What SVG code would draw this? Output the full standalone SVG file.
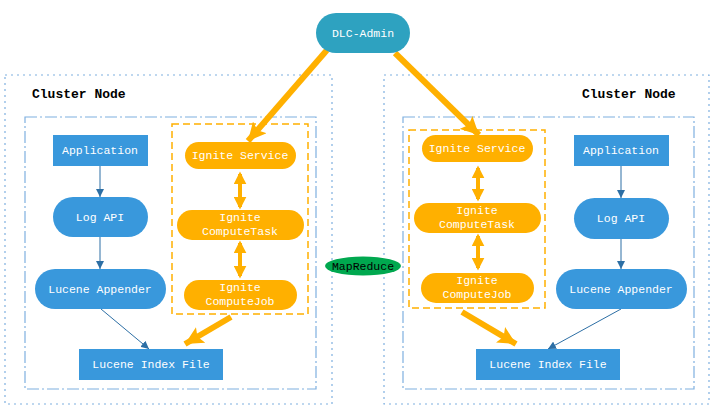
<svg xmlns="http://www.w3.org/2000/svg" width="716" height="417" viewBox="0 0 716 417">
<style>
text{font-family:"Liberation Mono","DejaVu Sans Mono",monospace;font-size:11.5px;text-anchor:middle;fill:#fff}
.title{font-size:13px;font-weight:bold;fill:#000;text-anchor:start}
.blue{fill:#3998dc}
.org{fill:#ffb000}
.outer{fill:none;stroke:#7fb0e0;stroke-width:1.2;stroke-dasharray:2 4}
.inner{fill:none;stroke:#7fb0e0;stroke-width:1.2;stroke-dasharray:12 3 2 3}
.odash{fill:none;stroke:#ffb000;stroke-width:1.5;stroke-dasharray:7 4}
.bl{stroke:#2d6fa5;stroke-width:1;fill:none;marker-end:url(#ab)}
.thick{stroke:#ffb000;stroke-width:6;fill:none;marker-end:url(#at)}
.dbl{stroke:#ffb000;stroke-width:4;fill:none;marker-start:url(#ad);marker-end:url(#ad)}
</style>
<defs>
<marker id="ab" markerUnits="userSpaceOnUse" viewBox="0 0 10 10" refX="10" refY="5" markerWidth="8" markerHeight="8" orient="auto"><path d="M0,0 L10,5 L0,10 Z" fill="#2d6fa5"/></marker>
<marker id="at" markerUnits="userSpaceOnUse" viewBox="0 0 10 10" refX="10" refY="5" markerWidth="18" markerHeight="18" orient="auto"><path d="M0,0 L10,5 L0,10 L2,5 Z" fill="#ffb000"/></marker>
<marker id="ad" markerUnits="userSpaceOnUse" viewBox="0 0 10 10" refX="8" refY="5" markerWidth="13" markerHeight="13" orient="auto-start-reverse"><path d="M0,0 L10,5 L0,10 Z" fill="#ffb000"/></marker>
</defs>

<g id="left-cluster">
<rect class="outer" x="5" y="75" width="327" height="329"/>
<rect class="inner" x="25" y="117" width="291" height="272"/>
<rect class="odash" x="172" y="124" width="136" height="190"/>
<text class="title" x="32" y="98">Cluster Node</text>
</g>
<g id="right-cluster">
<rect class="outer" x="384" y="75" width="325" height="329"/>
<rect class="inner" x="403" y="117" width="291" height="272"/>
<rect class="odash" x="409" y="130" width="136" height="178"/>
<text class="title" x="582" y="98">Cluster Node</text>
</g>

<g id="connectors">
<path class="bl" d="M100,166 V197"/>
<path class="bl" d="M100,237 V269"/>
<path class="bl" d="M101,309 L149,349"/>
<path class="bl" d="M621,166 V198"/>
<path class="bl" d="M621,239 V269"/>
<path class="bl" d="M621,309 L548,349"/>
<path class="thick" d="M327,50 L248,141"/>
<path class="thick" d="M395,53 L479,135"/>
<path class="thick" d="M231,317 L185,344"/>
<path class="thick" d="M462,312 L516,344"/>
<path class="dbl" d="M240,174 V207"/>
<path class="dbl" d="M240,243 V276"/>
<path class="dbl" d="M478,168 V199"/>
<path class="dbl" d="M478,236 V268"/>
</g>

<g id="dlc-admin"><rect x="316" y="13" width="94" height="40" rx="20" fill="#2ea2c0"/><text x="363" y="37">DLC-Admin</text></g>
<g id="mapreduce"><ellipse cx="363" cy="266" rx="38" ry="9.5" fill="#00a84f"/><text x="363" y="270" style="fill:#000">MapReduce</text></g>

<g id="l-application"><rect class="blue" x="53" y="135" width="95" height="31"/><text x="100" y="154">Application</text></g>
<g id="l-logapi"><rect class="blue" x="53" y="197" width="95" height="40" rx="20"/><text x="100" y="221">Log API</text></g>
<g id="l-appender"><rect class="blue" x="35" y="269" width="131" height="40" rx="20"/><text x="100" y="293">Lucene Appender</text></g>
<g id="l-index"><rect class="blue" x="79" y="349" width="144" height="31"/><text x="151" y="368">Lucene Index File</text></g>
<g id="l-service"><rect class="org" x="185" y="142" width="111" height="27" rx="13.5"/><text x="240" y="159">Ignite Service</text></g>
<g id="l-task"><rect class="org" x="177" y="210" width="127" height="30" rx="15"/><text x="240" y="221">Ignite</text><text x="240" y="235">ComputeTask</text></g>
<g id="l-job"><rect class="org" x="184" y="280" width="113" height="30" rx="15"/><text x="240" y="291">Ignite</text><text x="240" y="305">ComputeJob</text></g>

<g id="r-application"><rect class="blue" x="574" y="135" width="95" height="31"/><text x="621" y="154">Application</text></g>
<g id="r-logapi"><rect class="blue" x="574" y="198" width="95" height="41" rx="20.5"/><text x="621" y="222">Log API</text></g>
<g id="r-appender"><rect class="blue" x="556" y="269" width="131" height="40" rx="20"/><text x="621" y="293">Lucene Appender</text></g>
<g id="r-index"><rect class="blue" x="476" y="349" width="144" height="31"/><text x="548" y="368">Lucene Index File</text></g>
<g id="r-service"><rect class="org" x="422" y="135" width="111" height="27" rx="13.5"/><text x="477" y="152">Ignite Service</text></g>
<g id="r-task"><rect class="org" x="414" y="203" width="127" height="30" rx="15"/><text x="477" y="214">Ignite</text><text x="477" y="228">ComputeTask</text></g>
<g id="r-job"><rect class="org" x="421" y="273" width="113" height="30" rx="15"/><text x="477" y="284">Ignite</text><text x="477" y="298">ComputeJob</text></g>
</svg>
